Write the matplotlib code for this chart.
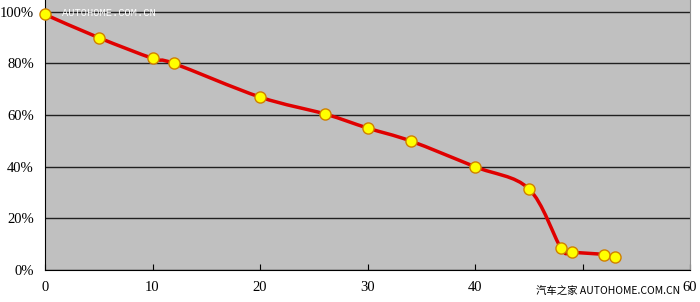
import matplotlib.pyplot as plt
import numpy as np
from matplotlib.path import Path
from matplotlib.patches import PathPatch

plt.rcParams['font.family'] = ['Liberation Serif', 'Noto Sans CJK SC', 'DejaVu Sans']

km = [0, 5, 10, 12, 20, 26, 30, 34, 40, 45, 48, 49, 52, 53]
charge = [0.99, 0.90, 0.82, 0.80, 0.67, 0.605, 0.55, 0.50, 0.40, 0.315, 0.085, 0.07, 0.06, 0.05]
yticks = [0, 0.2, 0.4, 0.6, 0.8, 1.0]
ylabels = ['0%', '20%', '40%', '60%', '80%', '100%']
xticks = [0, 10, 20, 30, 40, 50, 60]
xlabels = ['0', '10', '20', '30', '40', '', '60']  # 50 is hidden under the watermark

fig = plt.figure(figsize=(7, 3.02), dpi=100)
ax = fig.add_axes([45 / 700, 32 / 302, 645 / 700, 1 - 32 / 302])
ax.set_facecolor('#c0c0c0')

# smoothed line (catmull-rom -> bezier, like the excel "smoothed line")
x = np.array(km, float)
y = np.array(charge, float)
n = len(x)
verts = [(x[0], y[0])]
codes = [Path.MOVETO]
for i in range(n - 1):
    p0 = np.array([x[max(i - 1, 0)], y[max(i - 1, 0)]])
    p1 = np.array([x[i], y[i]])
    p2 = np.array([x[i + 1], y[i + 1]])
    p3 = np.array([x[min(i + 2, n - 1)], y[min(i + 2, n - 1)]])
    c1 = p1 + (p2 - p0) / 6
    c2 = p2 - (p3 - p1) / 6
    verts += [tuple(c1), tuple(c2), tuple(p2)]
    codes += [Path.CURVE4] * 3
ax.add_patch(PathPatch(Path(verts, codes), fill=False, edgecolor='#e00000', lw=2.5, zorder=3))

ax.plot(km, charge, ls='none', marker='o', ms=8, mfc='#ffff00', mec='#d08000',
        mew=1, zorder=4, clip_on=False)

ax.set_xlim(0, 60)
ax.set_ylim(0, 1.046)
ax.set_yticks(yticks)
ax.set_yticklabels(ylabels)
ax.set_xticks(xticks)
ax.set_xticklabels(xlabels)
ax.tick_params(axis='x', direction='in', length=4, labelsize=10.5, pad=8)
ax.tick_params(axis='y', length=0, labelsize=10.5, pad=8)
ax.yaxis.grid(True, color='#202020', lw=1)
ax.set_axisbelow(True)
ax.spines['top'].set_visible(False)
ax.spines['right'].set_color('#909090')
ax.spines['left'].set_color('black')
ax.spines['bottom'].set_color('black')

# watermarks
fig.text(0.088, 0.958, 'AUTOHOME.COM.CN', color='white', fontsize=7.5,
         family=['Liberation Mono', 'DejaVu Sans'], va='center', ha='left')
fig.text(0.972, 0.033, '汽车之家 AUTOHOME.COM.CN', fontsize=7.5, zorder=10,
         family=['Noto Sans CJK SC', 'Liberation Mono'], va='center', ha='right')

fig.savefig('out.png', dpi=100)
